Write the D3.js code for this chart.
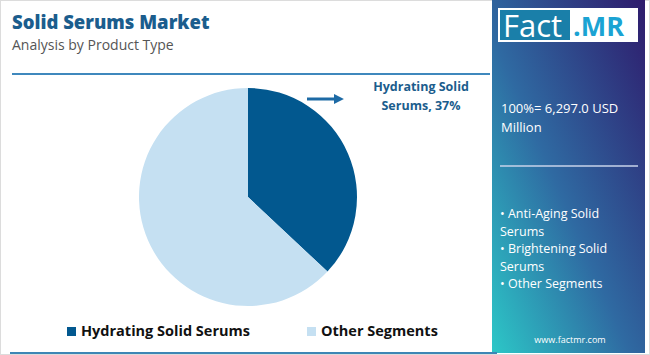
<!DOCTYPE html>
<html><head><meta charset="utf-8">
<script src="https://cdn.jsdelivr.net/npm/d3@7"></script>
<style>html,body{margin:0;padding:0;background:#fff;}svg{display:block;font-family:"Open Sans",Lato,sans-serif;}</style>
</head><body>
<script>
const categories = ["Hydrating Solid Serums", "Other Segments"];
const values = [37, 63];
const colors = ["#02588f", "#c5e0f2"];
const panelBullets = ["• Anti-Aging Solid", "Serums", "• Brightening Solid", "Serums", "• Other Segments"];
const totalLines = ["100%= 6,297.0 USD", "Million"];

const W = 650, H = 355;
const svg = d3.select("body").append("svg").attr("width", W).attr("height", H);

// frame
svg.append("rect").attr("x",0.5).attr("y",0.5).attr("width",W-1).attr("height",H-1).attr("fill","#fff").attr("stroke","#dcdcdc");

// right panel gradient
const defs = svg.append("defs");
const g = defs.append("linearGradient").attr("id","pg").attr("x1","0%").attr("y1","100%").attr("x2","100%").attr("y2","0%");
g.append("stop").attr("offset","0%").attr("stop-color","#2cc7c7");
g.append("stop").attr("offset","45%").attr("stop-color","#2f6aa2");
g.append("stop").attr("offset","100%").attr("stop-color","#2e1b6c");
svg.append("rect").attr("x",492).attr("y",0).attr("width",153).attr("height",353).attr("fill","url(#pg)");

// logo
svg.append("rect").attr("x",498).attr("y",8).attr("width",140).attr("height",34).attr("fill","#fff");
svg.append("rect").attr("x",500).attr("y",10).attr("width",70).attr("height",30).attr("fill","#1a7fa9");
svg.append("text").attr("x",503).attr("y",37).attr("fill","#fff").attr("font-size",31).attr("font-family","'Open Sans',sans-serif").text("Fact");
svg.append("text").attr("x",573).attr("y",36).attr("fill","#1ba3d3").attr("font-size",27).attr("font-weight",700).attr("font-family","'Open Sans',sans-serif").text(".MR");

// total text
svg.selectAll(".tot").data(totalLines).join("text").attr("x",501).attr("y",(d,i)=>113+i*19)
  .attr("fill","#fff").attr("font-size",13).text(d=>d);
svg.append("line").attr("x1",500).attr("x2",638).attr("y1",166).attr("y2",166).attr("stroke","#c9d3ea").attr("stroke-width",1.5);

svg.selectAll(".bl").data(panelBullets).join("text").attr("x",500).attr("y",(d,i)=>218+i*17.5)
  .attr("fill","#fff").attr("font-size",12.5).text(d=>d);
svg.append("text").attr("x",570).attr("y",343).attr("text-anchor","middle").attr("fill","#fff").attr("font-size",9).text("www.factmr.com");

// header
svg.append("text").attr("x",12).attr("y",29).attr("fill","#1b5d8d").attr("font-size",18.5).attr("font-weight",800).text("Solid Serums Market");
svg.append("text").attr("x",12).attr("y",50).attr("fill","#555").attr("font-size",14).text("Analysis by Product Type");
svg.append("line").attr("x1",12).attr("x2",490).attr("y1",74).attr("y2",74).attr("stroke","#3f88bd").attr("stroke-width",2);

// bottom line
svg.append("line").attr("x1",10).attr("x2",497).attr("y1",353).attr("y2",353).attr("stroke","#3d86b5").attr("stroke-width",2);

// pie
const cx = 248, cy = 197, r = 109;
const pie = d3.pie().sort(null).value(d=>d)(values);
const arc = d3.arc().innerRadius(0).outerRadius(r);
svg.append("g").attr("transform",`translate(${cx},${cy})`).selectAll("path").data(pie).join("path")
  .attr("d",arc).attr("fill",(d,i)=>colors[i]);

// annotation arrow
defs.append("marker").attr("id","ah").attr("viewBox","0 0 10 10").attr("refX",1).attr("refY",5)
  .attr("markerWidth",3.3).attr("markerHeight",3.3).attr("orient","auto")
  .append("path").attr("d","M0,0L10,5L0,10Z").attr("fill","#1d6aa5");
svg.append("line").attr("x1",307).attr("x2",335).attr("y1",99).attr("y2",99).attr("stroke","#1d6aa5").attr("stroke-width",3).attr("marker-end","url(#ah)");
svg.append("text").attr("x",421).attr("y",91).attr("text-anchor","middle").attr("fill","#1b5d8d").attr("font-size",12.5).attr("font-weight",700).text("Hydrating Solid");
svg.append("text").attr("x",421).attr("y",110).attr("text-anchor","middle").attr("fill","#1b5d8d").attr("font-size",12.5).attr("font-weight",700).text(`Serums, ${values[0]}%`);

// legend
const lx = [67, 307];
const lg = svg.selectAll(".lg").data(categories).join("g").attr("transform",(d,i)=>`translate(${lx[i]},327)`);
lg.append("rect").attr("width",9).attr("height",9).attr("fill",(d,i)=>colors[i]);
lg.append("text").attr("x",14).attr("y",9).attr("font-size",14.5).attr("font-weight",700).attr("fill","#111").text(d=>d);
</script>
</body></html>
